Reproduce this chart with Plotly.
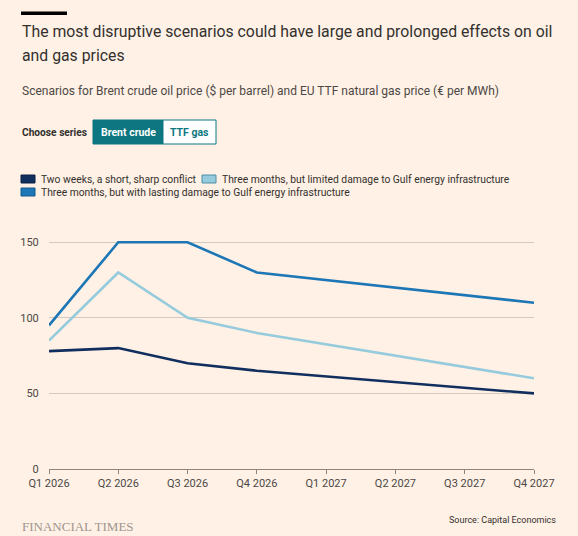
import plotly.graph_objects as go

# quarters on the x axis
quarters = ["Q1 2026", "Q2 2026", "Q3 2026", "Q4 2026",
            "Q1 2027", "Q2 2027", "Q3 2027", "Q4 2027"]

# scenario points (straight line between Q4 2026 and Q4 2027)
point_quarters = ["Q1 2026", "Q2 2026", "Q3 2026", "Q4 2026", "Q4 2027"]
short_conflict = [78, 80, 70, 65, 50]
limited_damage = [85, 130, 100, 90, 60]
lasting_damage = [95, 150, 150, 130, 110]

names = ["Two weeks, a short, sharp conflict",
         "Three months, but limited damage to Gulf energy infrastructure",
         "Three months, but with lasting damage to Gulf energy infrastructure"]
colors = ["#102e5e", "#95cbdc", "#1d76b6"]
edge_colors = ["#0a2148", "#4f8fa8", "#135a8f"]

y_ticks = [0, 50, 100, 150]

BG = "#fff1e5"
FONT = "Roboto"
DARK = "#33302e"
GREY = "#4d4845"

W, H = 578, 536
L, R, T, B = 49, 44, 240, 67


# pixel -> paper coords
def px(p):
    return (p - L) / (W - L - R)


def py(p):
    return (H - B - p) / (H - B - T)


fig = go.Figure()

series = [short_conflict, limited_damage, lasting_damage]
for vals, name, col in zip(series, names, colors):
    fig.add_trace(go.Scatter(x=point_quarters, y=vals, mode="lines", name=name,
                             line=dict(color=col, width=2.6),
                             showlegend=False, hoverinfo="x+y"))

fig.update_layout(
    width=W, height=H,
    paper_bgcolor=BG, plot_bgcolor=BG,
    margin=dict(l=L, r=R, t=T, b=B),
    font=dict(family=FONT, color=GREY, size=11),
    showlegend=False,
    xaxis=dict(type="category", categoryorder="array", categoryarray=quarters,
               tickvals=quarters, range=[0, 7], showgrid=False,
               showline=True, linecolor="#8c847d", linewidth=1,
               ticks="outside", ticklen=4, tickcolor="#8c847d",
               tickfont=dict(size=11, color=GREY), fixedrange=True),
    yaxis=dict(range=[0, 151.5], tickvals=y_ticks, showgrid=True,
               gridcolor="#d3c9bf", gridwidth=1, zeroline=False,
               ticks="outside", ticklen=7, tickcolor="rgba(0,0,0,0)",
               tickfont=dict(size=11, color=GREY), fixedrange=True),
)

# black bar above the title
fig.add_shape(type="rect", xref="paper", yref="paper",
              x0=px(21), x1=px(67), y0=py(15), y1=py(11.5),
              fillcolor="#000000", line_width=0)

# series toggle buttons (static)
fig.add_shape(type="rect", xref="paper", yref="paper",
              x0=px(93), x1=px(163), y0=py(144), y1=py(120),
              fillcolor="#0d7680", line=dict(color="#0d7680", width=1))
fig.add_shape(type="rect", xref="paper", yref="paper",
              x0=px(163), x1=px(216), y0=py(144), y1=py(120),
              fillcolor="#ffffff", line=dict(color="#0d7680", width=1))

# legend: swatch left edge / centre y / text start
legend_pos = [(21, 179, 39), (202, 179, 220), (21, 192, 39)]
for (sx, sy, tx), name, col, edge in zip(legend_pos, names, colors, edge_colors):
    fig.add_shape(type="rect", xref="paper", yref="paper",
                  x0=px(sx), x1=px(sx + 14), y0=py(sy + 4), y1=py(sy - 4),
                  fillcolor=col, line=dict(color=edge, width=1))
    fig.add_annotation(text=name, x=px(tx), y=py(sy), xref="paper", yref="paper",
                       xanchor="left", yanchor="middle", showarrow=False,
                       font=dict(size=10.3, color=DARK))

annots = [
    dict(text="The most disruptive scenarios could have large and prolonged effects on oil",
         x=px(20), y=py(31.5), xanchor="left", font=dict(size=15.8, color=DARK)),
    dict(text="and gas prices",
         x=px(20), y=py(55), xanchor="left", font=dict(size=15.8, color=DARK)),
    dict(text="Scenarios for Brent crude oil price ($ per barrel) and EU TTF natural gas price (€ per MWh)",
         x=px(20), y=py(91), xanchor="left", font=dict(size=12, color=GREY)),
    dict(text="<b>Choose series</b>", x=px(20), y=py(132), xanchor="left",
         font=dict(size=10.2, color=DARK)),
    dict(text="<b>Brent crude</b>", x=px(128), y=py(132), xanchor="center",
         font=dict(size=10.5, color="#ffffff")),
    dict(text="<b>TTF gas</b>", x=px(189.5), y=py(132), xanchor="center",
         font=dict(size=10.5, color="#0d7680")),
    dict(text="FINANCIAL TIMES", x=px(20), y=py(526), xanchor="left",
         font=dict(family="Liberation Serif", size=13, color="#9e958f")),
    dict(text="Source: Capital Economics", x=px(558), y=py(519.5), xanchor="right",
         font=dict(size=9, color=DARK)),
]
for a in annots:
    fig.add_annotation(xref="paper", yref="paper", yanchor="middle",
                       showarrow=False, **a)

fig.write_html("out.html", config={"displayModeBar": False},
               post_script="document.body.style.margin='0';")
